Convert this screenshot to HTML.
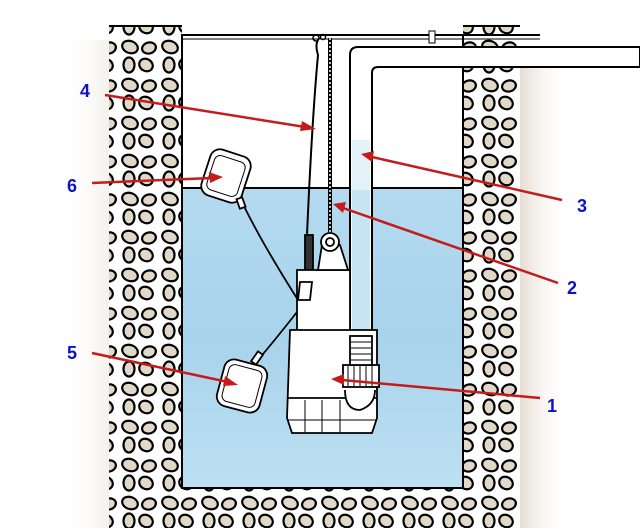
<!DOCTYPE html>
<html><head><meta charset="utf-8"><style>
html,body{margin:0;padding:0;background:#fff;}
svg{display:block}
text{font-family:"Liberation Sans",sans-serif;font-weight:bold;font-size:18px;fill:#1010c8}
</style></head><body>
<svg width="640" height="528" viewBox="0 0 640 528" xmlns="http://www.w3.org/2000/svg">
<defs>
<pattern id="st" width="40" height="38" patternUnits="userSpaceOnUse">
<rect width="40" height="38" fill="#fff"/>
<g fill="#e2d8ca" stroke="#000" stroke-width="2.2">
<ellipse cx="10" cy="9" rx="8" ry="6" transform="rotate(20 10 9)"/>
<ellipse cx="29" cy="10" rx="7" ry="5.5" transform="rotate(-15 29 10)"/>
<ellipse cx="9" cy="27" rx="5.5" ry="7.5"/>
<ellipse cx="26" cy="27" rx="7" ry="6" transform="rotate(30 26 27)"/>
</g>
</pattern>
<linearGradient id="w" x1="0" y1="0" x2="0" y2="1">
<stop offset="0" stop-color="#b4daf0"/><stop offset="0.5" stop-color="#a8d3ec"/><stop offset="1" stop-color="#bde0f2"/>
</linearGradient>
<linearGradient id="side" x1="0" y1="0" x2="1" y2="0">
<stop offset="0" stop-color="#e6ddd3"/><stop offset="1" stop-color="#fff" stop-opacity="0"/>
</linearGradient>
<linearGradient id="sideL" x1="1" y1="0" x2="0" y2="0">
<stop offset="0" stop-color="#f4f1ed"/><stop offset="1" stop-color="#fff" stop-opacity="0"/>
</linearGradient>
</defs>
<rect x="520" y="50" width="50" height="478" fill="url(#side)"/>
<rect x="60" y="40" width="49" height="488" fill="url(#sideL)"/>
<rect x="109" y="26" width="73" height="502" fill="url(#st)"/>
<rect x="463" y="26" width="57" height="502" fill="url(#st)"/>
<rect x="109" y="488" width="411" height="40" fill="url(#st)"/>
<line x1="109" y1="26" x2="182" y2="26" stroke="#000" stroke-width="2"/>
<line x1="463" y1="26" x2="520" y2="26" stroke="#000" stroke-width="2"/>
<rect x="182" y="35" width="281" height="153" fill="#fff"/>
<rect x="182" y="188" width="281" height="300" fill="url(#w)"/>
<line x1="182" y1="188" x2="463" y2="188" stroke="#000" stroke-width="2"/>
<rect x="182" y="35" width="281" height="453" fill="none" stroke="#000" stroke-width="2"/>
<line x1="182" y1="35" x2="540" y2="35" stroke="#000" stroke-width="2"/>
<line x1="182" y1="39" x2="540" y2="39" stroke="#000" stroke-width="1"/>
<rect x="429" y="31" width="6" height="12" fill="#fff" stroke="#000"/>
<path d="M350 336 V55 Q350 47 358 47 H640 V67 H378 Q372 67 372 73 V336 Z" fill="#fff" stroke="#000" stroke-width="2"/>
<rect x="352" y="190" width="18" height="146" fill="#c7e4f3"/>
<rect x="352" y="140" width="18" height="50" fill="#e3f1f8"/>
<path d="M318 40 Q315 45 318 55 Q312 120 307 235" fill="none" stroke="#000" stroke-width="2"/>
<path d="M330 38 V232" stroke="#000" stroke-width="4"/>
<path d="M330 38 V232" stroke="#fff" stroke-width="1.5" stroke-dasharray="2 2"/>
<circle cx="316" cy="38" r="3" fill="none" stroke="#000" stroke-width="1.5"/>
<circle cx="323" cy="37" r="2.5" fill="none" stroke="#000" stroke-width="1.5"/>
<path d="M241 200 Q260 240 298 300" fill="none" stroke="#000" stroke-width="1.8"/>
<path d="M297 312 Q275 340 258 360" fill="none" stroke="#000" stroke-width="1.8"/>
<g stroke="#000" stroke-width="1.8" fill="#fff">
<rect x="305" y="235" width="8" height="40" fill="#333"/>
<path d="M297 270 H350 V335 H297 Z"/>
<path d="M318 270 L322 245 H340 L348 270 Z"/>
<circle cx="330" cy="242" r="9"/>
<circle cx="330" cy="242" r="4"/>
<path d="M298 300 L310 300 L312 282 L300 282 Z"/>
<path d="M290 330 H377 V418 L372 433 H292 L287 418 Z"/>
<line x1="288" y1="398" x2="377" y2="398"/>
<line x1="288" y1="420" x2="377" y2="420" stroke-width="1"/>
<rect x="343" y="365" width="36" height="22"/>
<path d="M345 390 Q345 410 360 410 Q375 405 375 390"/>
<rect x="350" y="336" width="22" height="29"/>
</g>
<g stroke="#000" stroke-width="1"><line x1="351" y1="342" x2="371" y2="342"/><line x1="351" y1="348" x2="371" y2="348"/><line x1="351" y1="354" x2="371" y2="354"/><line x1="351" y1="360" x2="371" y2="360"/>
<line x1="348" y1="366" x2="348" y2="386"/><line x1="354" y1="366" x2="354" y2="386"/><line x1="360" y1="366" x2="360" y2="386"/><line x1="366" y1="366" x2="366" y2="386"/><line x1="372" y1="366" x2="372" y2="386"/>
<line x1="305" y1="400" x2="305" y2="432"/><line x1="322" y1="400" x2="322" y2="432"/><line x1="340" y1="400" x2="340" y2="432"/></g>
<g stroke="#000" stroke-width="1.8" fill="#fff">
<rect x="205" y="152" width="42" height="48" rx="10" transform="rotate(18 226 176)"/>
<rect x="210" y="158" width="32" height="36" rx="6" transform="rotate(18 226 176)" stroke-width="1"/>
<rect x="220" y="362" width="44" height="48" rx="10" transform="rotate(15 242 386)"/>
<rect x="225" y="367" width="34" height="38" rx="6" transform="rotate(15 242 386)" stroke-width="1"/>
<rect x="238" y="198" width="6" height="10" transform="rotate(-20 241 203)"/>
<rect x="254" y="352" width="6" height="12" transform="rotate(35 257 358)"/>
</g>
<g stroke="#c41b1b" stroke-width="2.5" fill="none">
<line x1="105" y1="95" x2="305" y2="127"/>
<line x1="92" y1="183" x2="212" y2="178"/>
<line x1="92" y1="353" x2="228" y2="382"/>
<line x1="562" y1="200" x2="372" y2="157"/>
<line x1="558" y1="283" x2="343" y2="208"/>
<line x1="540" y1="398" x2="342" y2="380"/>
</g>
<g fill="#c41b1b">
<polygon points="316,129 302,121 300,131"/>
<polygon points="223,177 209,172 210,183"/>
<polygon points="238,385 225,376 223,386"/>
<polygon points="361,154 374,151 372,162"/>
<polygon points="333,204 346,202 343,213"/>
<polygon points="331,379 344,374 344,385"/>
</g>
<text x="80" y="97">4</text>
<text x="67" y="192">6</text>
<text x="67" y="359">5</text>
<text x="577" y="212">3</text>
<text x="567" y="294">2</text>
<text x="547" y="412">1</text>
</svg>
</body></html>
